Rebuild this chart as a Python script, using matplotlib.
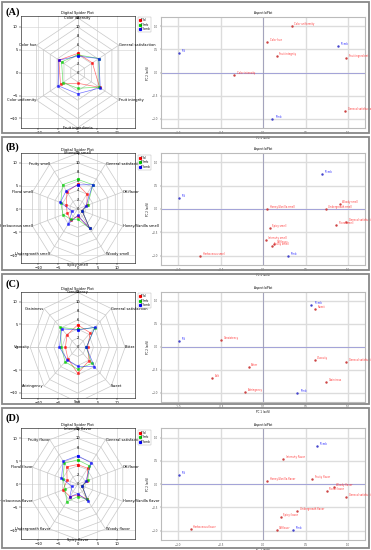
import numpy as np
import matplotlib
matplotlib.use('Agg')
import matplotlib.pyplot as plt
from matplotlib.lines import Line2D
from matplotlib.patches import Rectangle

W, H = 371, 550

SAMPLES = ['Tfd', 'Tfmb', 'Tfcmb']
COLORS = ['#ff0000', '#00cc00', '#0000ff']

# ---- panel A: colour / fruit
a_axes = ['Color intensity', 'General satisfaction', 'Fruit integrity',
          'Fruit ingredients', 'Color uniformity', 'Color hue']
a_tfd = [4.2, 4.3, 6.4, 2.3, 5.0, 5.5]
a_tfmb = [3.9, 6.2, 6.3, 3.4, 4.3, 4.7]
a_tfcmb = [3.6, 6.2, 6.6, 4.6, 5.7, 5.5]
a_attr = ['Color uniformity', 'Color hue', 'Fruit integrity', 'Fruit ingredients',
          'Color intensity', 'General satisfaction']
a_attr_x = [0.34, 0.05, 0.16, 0.98, -0.34, 0.97]
a_attr_y = [1.00, 0.65, 0.36, 0.32, -0.06, -0.84]
a_samp_x = [-0.99, 0.11, 0.88]
a_samp_y = [0.42, -1.00, 0.58]

# ---- panel B: smell
b_axes = ['Intensity smell', 'General satisfaction', 'Off-flavor', 'Honey/Vanilla smell',
          'Woody smell', 'Spicy smell', 'Undergrowth smell', 'Herbaceous smell',
          'Floral smell', 'Fruity smell']
b_tfd = [5.3, 4.0, 2.5, 1.1, 5.2, 1.5, 3.0, 2.8, 3.0, 4.6]
b_tfmb = [6.4, 6.5, 2.7, 1.2, 5.2, 2.2, 2.8, 3.9, 4.5, 6.5]
b_tfcmb = [5.2, 6.5, 2.2, 1.2, 5.2, 1.4, 4.0, 1.5, 4.6, 4.9]
b_attr = ['Woody smell', 'Undergrowth smell', 'Honey/Vanilla smell', 'General satisfaction',
          'Floral smell', 'Spicy smell', 'Intensity smell', 'Off-flavor', 'Fruity smell',
          'Herbaceous smell']
b_attr_x = [0.90, 0.74, 0.05, 0.98, 0.86, 0.08, 0.03, 0.13, 0.10, -0.74]
b_attr_y = [0.10, 0.01, -0.01, -0.28, -0.35, -0.41, -0.67, -0.75, -0.80, -1.00]
b_samp_x = [-0.99, 0.29, 0.69]
b_samp_y = [0.24, -1.00, 0.76]

# ---- panel C: taste / texture
c_axes = ['Consistency', 'General satisfaction', 'Bitter', 'Sweet', 'Salt',
          'Astringency', 'Viscosity', 'Graininess']
c_tfd = [4.9, 4.5, 2.5, 4.1, 5.7, 3.5, 3.1, 3.8]
c_tfmb = [3.9, 6.1, 2.2, 5.0, 4.8, 4.5, 4.1, 6.2]
c_tfcmb = [3.8, 6.2, 2.2, 6.0, 4.2, 3.8, 4.6, 5.7]
c_attr = ['Sweet', 'Consistency', 'Viscosity', 'General satisfaction', 'Bitter',
          'Salt', 'Graininess', 'Astringency']
c_attr_x = [0.61, -0.49, 0.61, 0.98, -0.17, -0.60, 0.74, -0.21]
c_attr_y = [0.83, 0.14, -0.28, -0.34, -0.44, -0.68, -0.76, -0.99]
c_samp_x = [-0.99, 0.40, 0.57]
c_samp_y = [0.13, -1.00, 0.92]

# ---- panel D: flavour
d_axes = ['Intensity flavor', 'General satisfaction', 'Off-flavor', 'Honey/Vanilla flavor',
          'Woody flavor', 'Spicy flavor', 'Undergrowth flavor', 'Herbaceous flavor',
          'Floral flavor', 'Fruity flavor']
d_tfd = [4.3, 4.3, 2.5, 1.2, 3.9, 2.3, 3.3, 3.9, 2.8, 4.7]
d_tfmb = [5.3, 5.0, 2.7, 1.2, 4.0, 2.7, 4.7, 3.3, 3.9, 5.7]
d_tfcmb = [6.2, 5.8, 2.2, 1.2, 4.5, 2.0, 3.4, 1.5, 4.3, 6.2]
d_attr = ['Intensity flavor', 'Honey/Vanilla flavor', 'Fruity flavor', 'Woody flavor',
          'Floral flavor', 'General satisfaction', 'Undergrowth flavor', 'Spicy flavor',
          'Herbaceous flavor', 'Off-flavor']
d_attr_x = [0.24, 0.05, 0.58, 0.83, 0.75, 0.98, 0.40, 0.21, -0.85, 0.16]
d_attr_y = [0.53, 0.07, 0.12, -0.06, -0.14, -0.28, -0.58, -0.71, -0.96, -0.99]
d_samp_x = [-0.99, 0.35, 0.63]
d_samp_y = [0.19, -0.99, 0.83]


def px_axes(fig, l, t, r, b):
    return fig.add_axes([l / W, 1 - b / H, (r - l) / W, (b - t) / H])


def spider(ax, labels, series, ylim):
    n = len(labels)
    ang = np.pi / 2 - 2 * np.pi * np.arange(n) / n
    ca, sa = np.cos(ang), np.sin(ang)
    for r in range(2, 13, 2):
        ax.plot(np.append(r * ca, r * ca[0]), np.append(r * sa, r * sa[0]),
                color='#c8c8c8', lw=0.5, zorder=1)
    for i in range(n):
        ax.plot([0, 12 * ca[i]], [0, 12 * sa[i]], color='#c8c8c8', lw=0.5, zorder=1)
    for r in range(0, 13, 2):
        ax.text(0, r, str(r), fontsize=2.6, ha='center', va='center', zorder=2)
    for i, lab in enumerate(labels):
        if ca[i] > 0.1:
            ha = 'left'
        elif ca[i] < -0.1:
            ha = 'right'
        else:
            ha = 'center'
        ax.text(12 * ca[i], 12 * sa[i], lab, fontsize=2.6, ha=ha, va='center', zorder=4)
    for vals, c in zip(series, COLORS):
        v = np.array(vals)
        x, y = v * ca, v * sa
        ax.plot(np.append(x, x[0]), np.append(y, y[0]), color=c, lw=0.5, alpha=0.55,
                marker='s', ms=1.2, mec=c, mfc=c, zorder=3)
    ax.set_xlim(-14.4, 14.5)
    ax.set_ylim(*ylim)
    ax.set_xticks([-10, -5, 0, 5, 10])
    ax.set_yticks([-10, -5, 0, 5, 10])
    ax.tick_params(labelsize=2.7, length=1.2, width=0.3, pad=1)
    ax.grid(True, color='#d0d0d0', lw=0.4)
    ax.set_axisbelow(True)
    for s in ax.spines.values():
        s.set_linewidth(0.4)
    ax.set_title('Digital Spider Plot', fontsize=2.6, pad=1.5)
    handles = [Line2D([], [], ls='none', marker='s', ms=1.3, color=c) for c in COLORS]
    leg = ax.legend(handles, SAMPLES, loc='upper left', bbox_to_anchor=(1.01, 1.0),
                    fontsize=2.1, frameon=True, borderpad=0.3, handletextpad=0.2,
                    labelspacing=0.2, handlelength=0.8, fancybox=False, edgecolor='#999999')
    leg.get_frame().set_linewidth(0.3)


def biplot(ax, attr, ax_x, ax_y, sx, sy):
    ax.axhline(0, color='#9a9ad8', lw=0.6, zorder=1)
    ax.axvline(0, color='#9a9ab8', lw=0.6, zorder=1)
    ax.plot(ax_x, ax_y, 's', color='#cc4444', ms=0.7, zorder=3)
    for lab, x, y in zip(attr, ax_x, ax_y):
        ax.text(x + 0.03, y, lab, fontsize=1.8, color='#ff3333', va='bottom', zorder=4)
    ax.plot(sx, sy, 's', color='#4444cc', ms=0.7, zorder=3)
    for lab, x, y in zip(SAMPLES, sx, sy):
        ax.text(x + 0.03, y, lab, fontsize=1.8, color='#3333ff', va='bottom', zorder=4)
    ax.set_xlim(-1.2, 1.2)
    ax.set_ylim(-1.2, 1.2)
    ticks = [-1.0, -0.5, 0.0, 0.5, 1.0]
    ax.set_xticks(ticks)
    ax.set_yticks(ticks)
    ax.tick_params(labelsize=1.9, length=1, width=0.3, pad=1, colors='#555555')
    ax.grid(True, color='#dcdcdc', lw=1.0)
    ax.set_axisbelow(True)
    for s in ax.spines.values():
        s.set_color('#bbbbbb')
        s.set_linewidth(0.8)
    ax.set_title('Aspect biPlot', fontsize=2.1, pad=2)
    ax.set_xlabel('PC 1 (xx%)', fontsize=1.9, labelpad=1)
    ax.set_ylabel('PC 2 (xx%)', fontsize=1.9, labelpad=1)


fig = plt.figure(figsize=(W / 100, H / 100), dpi=100)

panels = [
    ('(A)', 2, 133, (a_axes, [a_tfd, a_tfmb, a_tfcmb]), (16, 127.7), (72.7, 4.58),
     (17, 128), (a_attr, a_attr_x, a_attr_y, a_samp_x, a_samp_y)),
    ('(B)', 137, 270, (b_axes, [b_tfd, b_tfmb, b_tfcmb]), (153.3, 263), (209, 4.63),
     (153, 265), (b_attr, b_attr_x, b_attr_y, b_samp_x, b_samp_y)),
    ('(C)', 274, 404, (c_axes, [c_tfd, c_tfmb, c_tfcmb]), (291.7, 398), (347.3, 4.57),
     (291.7, 402), (c_attr, c_attr_x, c_attr_y, c_samp_x, c_samp_y)),
    ('(D)', 408, 548, (d_axes, [d_tfd, d_tfmb, d_tfcmb]), (428.3, 539.3), (484.3, 4.6),
     (428.3, 540), (d_attr, d_attr_x, d_attr_y, d_samp_x, d_samp_y)),
]

for tag, top, bot, sp, sp_tb, (cy, sc), bp_tb, bp in panels:
    fig.patches.append(Rectangle((2 / W, 1 - bot / H), 367 / W, (bot - top) / H,
                                 transform=fig.transFigure, fill=False,
                                 edgecolor='#888888', lw=1.3))
    fig.text(6 / W, 1 - (top + 10) / H, tag, fontsize=7.5, fontweight='bold',
             family='Liberation Serif', va='center', ha='left')
    ax1 = px_axes(fig, 20.7, sp_tb[0], 135, sp_tb[1])
    ylim = (-(sp_tb[1] - cy) / sc, (cy - sp_tb[0]) / sc)
    spider(ax1, sp[0], sp[1], ylim)
    ax2 = px_axes(fig, 161, bp_tb[0], 365, bp_tb[1])
    biplot(ax2, *bp)

fig.savefig('out.png', dpi=100)
plt.close(fig)
